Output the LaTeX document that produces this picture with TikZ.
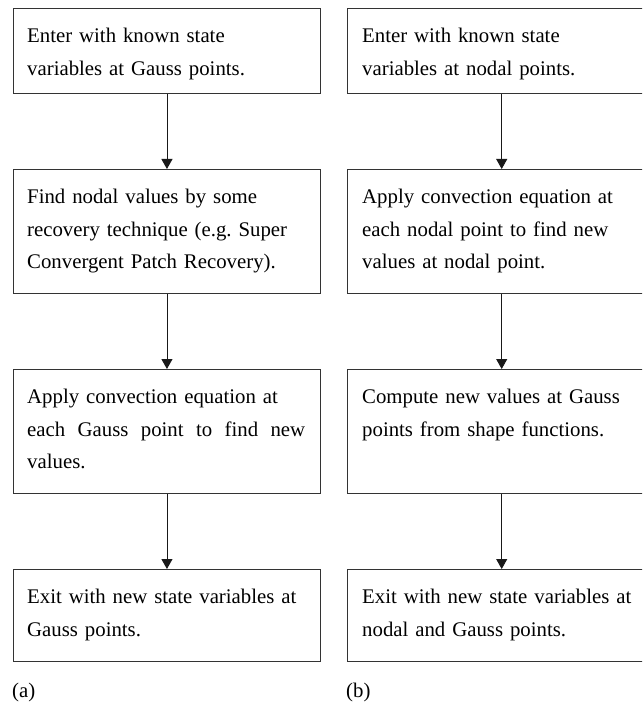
\documentclass[tikz,border=0pt]{standalone}
\usepackage{fontspec}
\setmainfont{Liberation Serif}
\usetikzlibrary{arrows.meta,calc}
\frenchspacing
\begin{document}
\begin{tikzpicture}[x=1pt,y=-1pt,
  box/.style={rectangle, draw=black!80, line width=1.4pt, minimum width=307.5pt, anchor=north west, inner sep=0pt},
  txt/.style={anchor=north west, inner sep=0pt, text width=290pt, align=left, font=\fontsize{20.8}{32.5}\selectfont},
  lab/.style={anchor=base west, inner sep=0pt, font=\fontsize{20.8}{32.5}\selectfont},
  flow/.style={line width=0.9pt, draw=black!90, -{Triangle[length=10pt,width=11pt]}}]
\useasboundingbox (0,0) rectangle (642,703);
\clip (0,0) rectangle (642,703);
% left column
\node[box, minimum height=85pt]  (a1) at (12.5,8) {};
\node[box, minimum height=124pt] (a2) at (12.5,169) {};
\node[box, minimum height=124pt] (a3) at (12.5,369) {};
\node[box, minimum height=92pt]  (a4) at (12.5,569) {};
\node[txt] (ta1) at ($(a1.north west)+(14.5,12)$) {\strut Enter with known state\\variables at Gauss points.};
\node[txt] (ta2) at ($(a2.north west)+(14.5,12)$) {\strut Find nodal values by some\\recovery technique (e.g. Super\\Convergent Patch Recovery).};
\node[txt] (ta3) at ($(a3.north west)+(14.5,12)$) {\strut Apply convection equation at\\\makebox[278pt][l]{each\hfill Gauss\hfill point\hfill to\hfill find\hfill new}\\values.};
\node[txt] (ta4) at ($(a4.north west)+(14.5,12)$) {\strut Exit with new state variables at\\Gauss points.};
\draw[flow] (a1.south) -- (a2.north);
\draw[flow] (a2.south) -- (a3.north);
\draw[flow] (a3.south) -- (a4.north);
\node[lab] (la) at (12,697) {(a)};
% right column
\node[box, minimum width=308pt, minimum height=85pt]  (b1) at (347,8) {};
\node[box, minimum width=308pt, minimum height=124pt] (b2) at (347,169) {};
\node[box, minimum width=308pt, minimum height=124pt] (b3) at (347,369) {};
\node[box, minimum width=308pt, minimum height=92pt]  (b4) at (347,569) {};
\node[txt] (tb1) at ($(b1.north west)+(15,12)$) {\strut Enter with known state\\variables at nodal points.};
\node[txt] (tb2) at ($(b2.north west)+(15,12)$) {\strut Apply convection equation at\\each nodal point to find new\\values at nodal point.};
\node[txt] (tb3) at ($(b3.north west)+(15,12)$) {\strut Compute new values at Gauss\\points from shape functions.};
\node[txt] (tb4) at ($(b4.north west)+(15,12)$) {\strut Exit with new state variables at\\nodal and Gauss points.};
\draw[flow] (b1.south) -- (b2.north);
\draw[flow] (b2.south) -- (b3.north);
\draw[flow] (b3.south) -- (b4.north);
\node[lab] (lb) at (346,697) {(b)};
\end{tikzpicture}
\end{document}
